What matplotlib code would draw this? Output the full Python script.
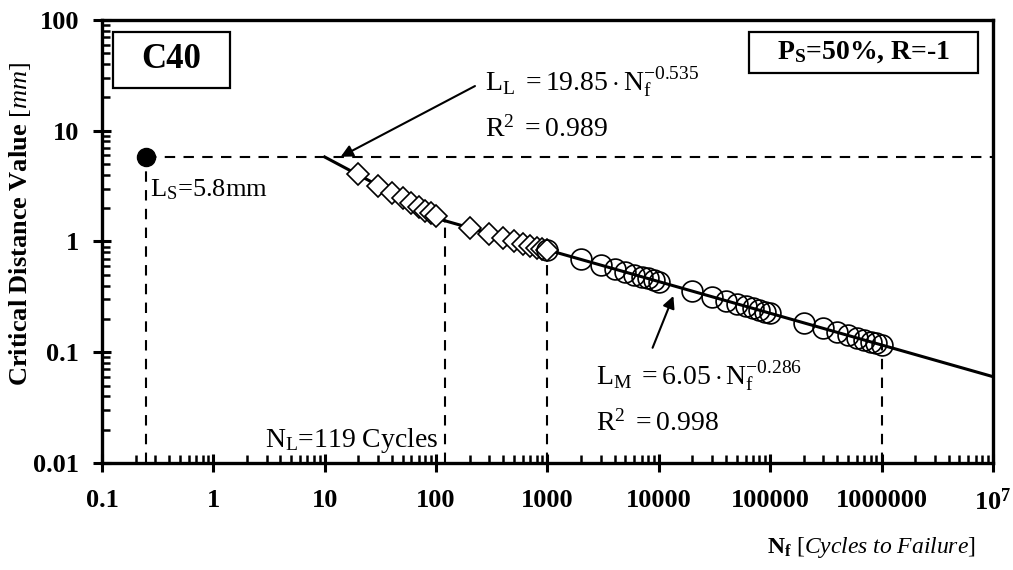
import numpy as np
import matplotlib
matplotlib.use("Agg")
import matplotlib.pyplot as plt
from matplotlib.patches import Rectangle
from matplotlib.ticker import FixedLocator, LogLocator, NullFormatter

plt.rcParams["font.family"] = ["Liberation Serif", "DejaVu Serif"]
plt.rcParams["mathtext.fontset"] = "custom"
plt.rcParams["mathtext.rm"] = "Liberation Serif"
plt.rcParams["mathtext.it"] = "Liberation Serif:italic"
plt.rcParams["mathtext.bf"] = "Liberation Serif:bold"

# short-crack (diamond) points
n_diamond = [20, 30, 40, 50, 60, 70, 80, 90, 100,
             200, 300, 400, 500, 600, 700, 800, 900, 1000]
l_diamond = [4.05, 3.2, 2.75, 2.45, 2.22, 2.05, 1.9, 1.79, 1.7,
             1.33, 1.17, 1.07, 1.0, 0.95, 0.91, 0.88, 0.86, 0.84]

# medium-cycle (circle) points
n_circle = [1000, 2000, 3000, 4000, 5000, 6000, 7000, 8000, 9000, 10000,
            20000, 30000, 40000, 50000, 60000, 70000, 80000, 90000, 100000,
            200000, 300000, 400000, 500000, 600000, 700000, 800000, 900000, 1000000]
l_circle = [0.84, 0.69, 0.61, 0.565, 0.53, 0.5, 0.48, 0.465, 0.45, 0.435,
            0.356, 0.317, 0.293, 0.274, 0.26, 0.249, 0.24, 0.232, 0.225,
            0.184, 0.164, 0.152, 0.142, 0.135, 0.129, 0.124, 0.12, 0.116]

# fitted laws
a_L, b_L = 19.85, -0.535
a_M, b_M = 6.05, -0.286
n_L = 119
L_S = 5.8
n_static = 0.25

xticks = [0.1, 1, 10, 100, 1000, 10000, 100000, 1000000, 1e7]
xlabels = ["0.1", "1", "10", "100", "1000", "10000", "100000", "1000000", r"$\mathbf{10^7}$"]
yticks = [0.01, 0.1, 1, 10, 100]
ylabels = ["0.01", "0.1", "1", "10", "100"]

fig = plt.figure(figsize=(10.13, 5.70), dpi=100)
ax = fig.add_axes([0.1007, 0.1877, 0.8795, 0.7773])
ax.set_xscale("log")
ax.set_yscale("log")
ax.set_xlim(0.1, 1e7)
ax.set_ylim(0.01, 100)

# fitted line: L_L up to N_L, then L_M
nl = np.logspace(np.log10(10), np.log10(n_L), 50)
nm = np.logspace(np.log10(n_L), 7, 100)
ax.plot(nl, a_L * nl ** b_L, color="black", lw=2.2, zorder=3)
ax.plot(nm, a_M * nm ** b_M, color="black", lw=2.2, zorder=3)

ax.plot(n_diamond, l_diamond, ls="none", marker="D", ms=11, mfc="white",
        mec="black", mew=1.2, zorder=4)
ax.plot(n_circle, l_circle, ls="none", marker="o", ms=15, mfc="none",
        mec="black", mew=1.2, zorder=4)
ax.plot([n_static], [L_S], ls="none", marker="o", ms=13, color="black", zorder=5)

# dashed guides
dash = dict(color="black", lw=1.5, ls=(0, (5, 4)), zorder=2)
ax.plot([n_static, 1e7], [L_S, L_S], **dash)
ax.plot([n_static, n_static], [0.01, L_S], **dash)
ax.plot([n_L, n_L], [0.01, a_M * n_L ** b_M], **dash)
ax.plot([1000, 1000], [0.01, a_M * 1000 ** b_M], **dash)
ax.plot([1e6, 1e6], [0.01, a_M * 1e6 ** b_M], **dash)

# texts
ax.text(0.27, 2.95, r"L$_\mathrm{S}$=5.8mm", fontsize=19, ha="left", va="center")
ax.text(106, 0.0118, r"N$_\mathrm{L}$=119 Cycles", fontsize=20, ha="right", va="bottom")

# labelled boxes
ax.add_patch(Rectangle((0.0123, 0.8465), 0.1314, 0.1265, transform=ax.transAxes,
                       fc="white", ec="black", lw=1.6, zorder=6))
ax.text(0.078, 0.91, "C40", transform=ax.transAxes, fontsize=25, fontweight="bold",
        ha="center", va="center", zorder=7)
ax.add_patch(Rectangle((0.726, 0.880), 0.257, 0.093, transform=ax.transAxes,
                       fc="white", ec="black", lw=1.6, zorder=6))
ax.text(0.855, 0.927, r"P$_\mathbf{S}$=50%, R=-1", transform=ax.transAxes, fontsize=20,
        fontweight="bold", ha="center", va="center", zorder=7)

ax.text(276, 27, r"$\mathrm{L_L\ = 19.85\cdot N_f^{-0.535}}$", fontsize=20, ha="left", va="center")
ax.text(276, 10.2, r"$\mathrm{R^2\ = 0.989}$", fontsize=20, ha="left", va="center")
ax.annotate("", xy=(13.2, 5.66), xytext=(235, 26),
            arrowprops=dict(arrowstyle="-|>", color="black", lw=1.5, mutation_scale=18))

ax.text(2740, 0.06, r"$\mathrm{L_M\ = 6.05\cdot N_f^{-0.286}}$", fontsize=20, ha="left", va="center")
ax.text(2740, 0.023, r"$\mathrm{R^2\ = 0.998}$", fontsize=20, ha="left", va="center")
ax.annotate("", xy=(13800, 0.34), xytext=(8600, 0.104),
            arrowprops=dict(arrowstyle="-|>", color="black", lw=1.5, mutation_scale=18))

# axes styling
for side in ax.spines:
    ax.spines[side].set_linewidth(2.4)
ax.xaxis.set_major_locator(FixedLocator(xticks))
ax.set_xticklabels(xlabels)
ax.yaxis.set_major_locator(FixedLocator(yticks))
ax.set_yticklabels(ylabels)
ax.xaxis.set_minor_locator(LogLocator(base=10, subs=np.arange(2, 10), numticks=20))
ax.yaxis.set_minor_locator(LogLocator(base=10, subs=np.arange(2, 10), numticks=20))
ax.xaxis.set_minor_formatter(NullFormatter())
ax.yaxis.set_minor_formatter(NullFormatter())
ax.tick_params(which="major", direction="inout", length=13, width=2.2,
               labelsize=19, top=False, right=False)
ax.tick_params(which="minor", direction="in", length=6, width=1.8, top=False, right=False)
ax.tick_params(axis="x", which="major", pad=12)
ax.tick_params(axis="y", which="major", pad=10)
for lab in ax.get_xticklabels() + ax.get_yticklabels():
    lab.set_fontweight("bold")

ax.set_ylabel(r"$\mathbf{Critical\ Distance\ Value}$ $\mathit{[mm]}$", fontsize=19)
ax.yaxis.set_label_coords(-0.077, 0.54)
fig.text(0.963, 0.04, r"$\mathbf{N_f}$ $\mathit{[Cycles\ to\ Failure]}$", fontsize=17,
         ha="right", va="center")

fig.savefig("out.png", dpi=100)
